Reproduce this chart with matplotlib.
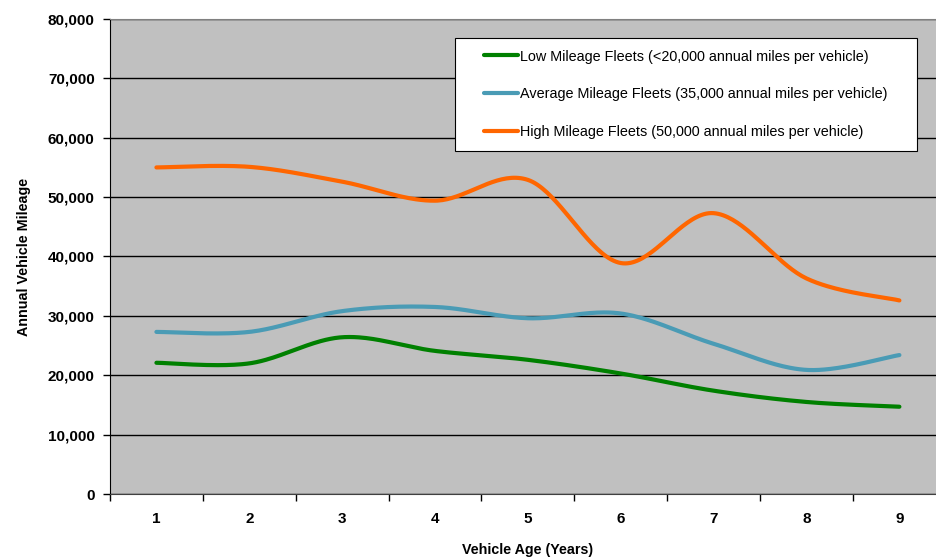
import numpy as np
import matplotlib
matplotlib.use("Agg")
import matplotlib.pyplot as plt
from matplotlib.patches import Rectangle
from matplotlib.ticker import FuncFormatter, FixedLocator

plt.rcParams["font.family"] = ["Liberation Sans", "DejaVu Sans"]

vehicle_age = [1, 2, 3, 4, 5, 6, 7, 8, 9]
low_mileage = [22100, 22000, 26400, 24100, 22600, 20300, 17400, 15500, 14700]
avg_mileage = [27300, 27300, 30800, 31500, 29600, 30400, 25300, 20900, 23400]
high_mileage = [55000, 55100, 52600, 49400, 52900, 38900, 47300, 36300, 32600]

series = [
    ("Low Mileage Fleets (<20,000 annual miles per vehicle)", low_mileage, "#008000"),
    ("Average Mileage Fleets (35,000 annual miles per vehicle)", avg_mileage, "#4A9BB5"),
    ("High Mileage Fleets (50,000 annual miles per vehicle)", high_mileage, "#FF6600"),
]


def smooth(xs, ys, steps=40):
    # cubic bezier through each point, control points from neighbours (Catmull-Rom style)
    p = np.column_stack([xs, ys]).astype(float)
    p = np.vstack([p[0], p, p[-1]])
    out = []
    for i in range(1, len(p) - 2):
        p0, p1, p2, p3 = p[i - 1], p[i], p[i + 1], p[i + 2]
        c1 = p1 + (p2 - p0) / 6.0
        c2 = p2 - (p3 - p1) / 6.0
        t = np.linspace(0, 1, steps)[:, None]
        seg = ((1 - t) ** 3) * p1 + 3 * ((1 - t) ** 2) * t * c1 + 3 * (1 - t) * t ** 2 * c2 + t ** 3 * p2
        out.append(seg if i == 1 else seg[1:])
    curve = np.vstack(out)
    return curve[:, 0], curve[:, 1]


fig = plt.figure(figsize=(9.36, 5.57), dpi=100)
ax = fig.add_axes([0.1175, 0.1131, 0.893, 0.8528])
ax.set_facecolor("#C0C0C0")

for label, values, color in series:
    sx, sy = smooth(vehicle_age, values)
    ax.plot(sx, sy, color=color, linewidth=3, label=label, solid_capstyle="round")

ax.set_xlim(0.5, 9.5)
ax.set_ylim(0, 80000)
ax.yaxis.set_major_locator(FixedLocator(np.arange(0, 80001, 10000)))
ax.yaxis.set_major_formatter(FuncFormatter(lambda v, _: f"{int(v):,}"))
ax.grid(axis="y", color="black", linewidth=1)
ax.set_axisbelow(True)

# category labels centred, ticks on category boundaries
ax.set_xticks(vehicle_age)
ax.set_xticklabels([str(a) for a in vehicle_age], fontsize=11, fontweight="bold")
ax.tick_params(axis="x", length=0, pad=13)
ax.set_xticks(np.arange(0.5, 9.6, 1), minor=True)
ax.tick_params(axis="x", which="minor", length=5, width=1, color="black", direction="out")
ax.tick_params(axis="y", length=5, width=1, direction="out", pad=6)
for t in ax.get_yticklabels():
    t.set_fontsize(11)
    t.set_fontweight("bold")

ax.spines["left"].set_color("black")
ax.spines["bottom"].set_color("#404040")
ax.spines["top"].set_color("#808080")
ax.spines["right"].set_color("#808080")

ax.set_ylabel("Annual Vehicle Mileage", fontsize=10.3, fontweight="bold", labelpad=12)
ax.set_xlabel("Vehicle Age (Years)", fontsize=10.3, fontweight="bold", labelpad=12)

leg = ax.legend(loc="upper left", bbox_to_anchor=(0.434, 0.96), frameon=False,
                fontsize=10.4, handlelength=2.35, handletextpad=0.15, labelspacing=1.65,
                borderpad=0.8, borderaxespad=0)
leg.set_zorder(5)
for line in leg.get_lines():
    line.set_linewidth(3)

# white legend box, wider horizontal padding than the legend's own frame
fig.canvas.draw()
bb = leg.get_window_extent()
pad_x = 18
ax.add_artist(Rectangle(((bb.x0 - pad_x - ax.bbox.x0) / ax.bbox.width, (bb.y0 - ax.bbox.y0) / ax.bbox.height),
                        (bb.width + 2 * pad_x) / ax.bbox.width, bb.height / ax.bbox.height,
                        transform=ax.transAxes, facecolor="white", edgecolor="black",
                        linewidth=0.8, zorder=4, clip_on=False))

fig.savefig("out.png", dpi=100)
